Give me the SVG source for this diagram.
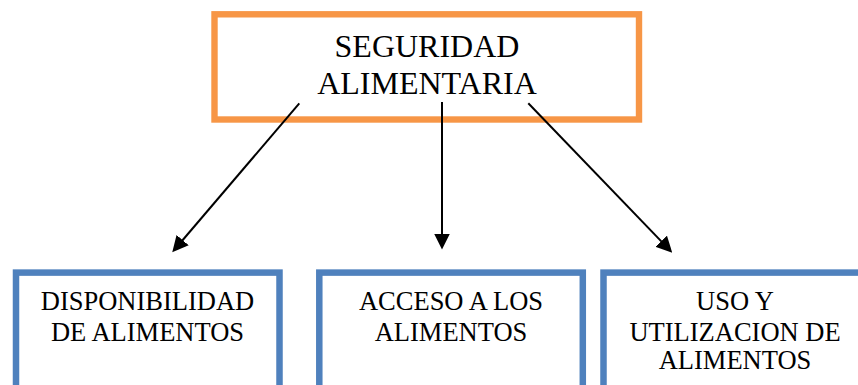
<svg xmlns="http://www.w3.org/2000/svg" width="858" height="385" viewBox="0 0 858 385">
<style>
.t{font-family:'Liberation Serif','Times New Roman',Times,'DejaVu Serif',serif;fill:#000;text-anchor:middle}
.big{font-size:32px}
.sm{font-size:26.5px}
.ob{fill:#fff;stroke:#F79646;stroke-width:6.4}
.bb{fill:#fff;stroke:#4F81BD;stroke-width:6.5}
.c{stroke:#000;stroke-width:2;fill:none}
</style>
<defs>
<marker id="ah" markerUnits="userSpaceOnUse" viewBox="0 0 16 16" refX="11" refY="8" markerWidth="16" markerHeight="16" orient="auto">
<path d="M0,0 L16,8 L0,16 z" fill="#000"/>
</marker>
</defs>
<rect width="858" height="385" fill="#fff"/>
<g id="n-seguridad">
<rect class="ob" x="214.5" y="14.3" width="424.5" height="105.2"/>
<text class="t big" x="427" y="57" font-family="'Liberation Serif', 'DejaVu Serif', serif">SEGURIDAD</text>
<text class="t big" x="427" y="94" font-family="'Liberation Serif', 'DejaVu Serif', serif">ALIMENTARIA</text>
</g>
<g id="n-disponibilidad">
<rect class="bb" x="16" y="272.6" width="263.5" height="200"/>
<text class="t sm" x="147.5" y="310">DISPONIBILIDAD</text>
<text class="t sm" x="147.5" y="340.5">DE ALIMENTOS</text>
</g>
<g id="n-acceso">
<rect class="bb" x="319.3" y="272.6" width="263.5" height="200"/>
<text class="t sm" x="451" y="310">ACCESO A LOS</text>
<text class="t sm" x="451" y="340.5">ALIMENTOS</text>
</g>
<g id="n-uso">
<rect class="bb" x="603.5" y="272.6" width="300" height="200"/>
<text class="t sm" x="735" y="310">USO Y</text>
<text class="t sm" x="735" y="340.5">UTILIZACION DE</text>
<text class="t sm" x="735" y="369.3">ALIMENTOS</text>
</g>
<g id="connectors">
<line class="c" x1="299.3" y1="103.3" x2="175.5" y2="248.5" marker-end="url(#ah)"/>
<line class="c" x1="442" y1="102" x2="442" y2="244.5" marker-end="url(#ah)"/>
<line class="c" x1="528.3" y1="103.3" x2="668.8" y2="249.1" marker-end="url(#ah)"/>
</g>
</svg>
